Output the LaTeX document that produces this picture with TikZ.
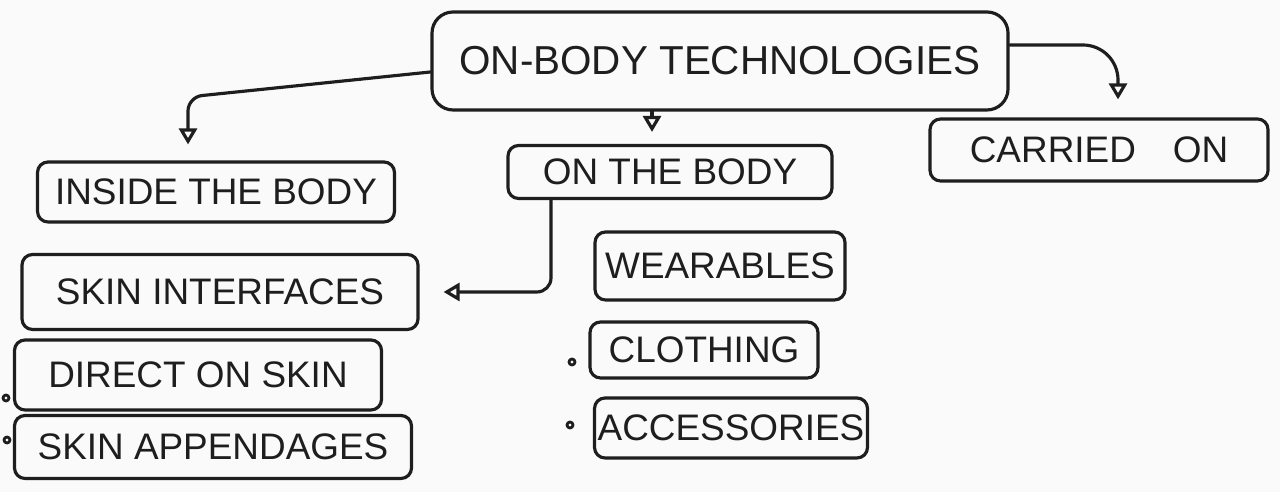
\documentclass[tikz,border=0pt]{standalone}
\usepackage{fontspec}
\setmainfont{Liberation Sans}
\usepackage{xcolor}
\usepackage{tikz}
\usetikzlibrary{arrows.meta,positioning}
\definecolor{ink}{HTML}{1E1E1E}
\definecolor{paper}{HTML}{FAFAFA}

\begin{document}
\begin{tikzpicture}[line cap=round, line join=round,
    box/.style={draw=ink, line width=0.9pt, rounded corners=3pt, text=ink,
      font=\fontsize{10.5}{12}\selectfont, inner sep=0pt},
    arr/.style={draw=ink, line width=0.9pt, -{Triangle[open, length=1.6mm, width=1.8mm]}},
    dot/.style={draw=ink, line width=0.8pt}]
  \fill[paper] (0,0) rectangle (12.8,4.92);
  \useasboundingbox (0,0) rectangle (12.8,4.92);
  % top level
  \node[box, rounded corners=6pt, minimum width=5.76cm, minimum height=0.98cm,
    font=\fontsize{11.5}{13}\selectfont] (tech) at (7.20,4.31) {ON-BODY TECHNOLOGIES};
  \node[box, minimum width=3.57cm, minimum height=0.60cm] (inside) at (2.16,3.00) {INSIDE THE BODY};
  \node[box, minimum width=3.24cm, minimum height=0.53cm] (onbody) at (6.70,3.20) {ON THE BODY};
  \node[box, minimum width=3.38cm, minimum height=0.62cm] (carried) at (10.99,3.42) {CARRIED\quad ON};
  % left column
  \node[box, minimum width=3.96cm, minimum height=0.75cm] (skin) at (2.20,2.00) {SKIN INTERFACES};
  \node[box, minimum width=3.67cm, minimum height=0.70cm] (direct) at (1.98,1.17) {DIRECT ON SKIN};
  \node[box, minimum width=3.97cm, minimum height=0.63cm] (append) at (2.13,0.45) {SKIN APPENDAGES};
  % middle column
  \node[box, minimum width=2.50cm, minimum height=0.68cm] (wear) at (7.20,2.26) {WEARABLES};
  \node[box, minimum width=2.28cm, minimum height=0.56cm] (cloth) at (7.04,1.42) {CLOTHING};
  \node[box, minimum width=2.73cm, minimum height=0.60cm] (access) at (7.31,0.64) {ACCESSORIES};
  % bullets
  \draw[dot] (0.06,0.94) circle (0.03);
  \draw[dot] (0.07,0.52) circle (0.03);
  \draw[dot] (5.72,1.30) circle (0.03);
  \draw[dot] (5.70,0.67) circle (0.03);
  % connectors
  \coordinate (kneeL) at (1.88,3.95);
  \draw[arr, rounded corners=4pt, shorten >=1.6mm] ([yshift=-1.1mm]tech.west) -- (kneeL) -- (kneeL |- inside.north);
  \draw[arr, shorten >=1.2mm] ([xshift=-6.8mm]tech.south) -- ([xshift=-6.8mm]tech.south |- onbody.north);
  \draw[arr, rounded corners=10pt, shorten >=1.8mm] ([yshift=1.6mm]tech.east) -| ([xshift=1.9mm]carried.north);
  \draw[arr, rounded corners=4pt, shorten >=2.4mm] ([xshift=-11.9mm]onbody.south) |- (skin.east);
\end{tikzpicture}
\end{document}
